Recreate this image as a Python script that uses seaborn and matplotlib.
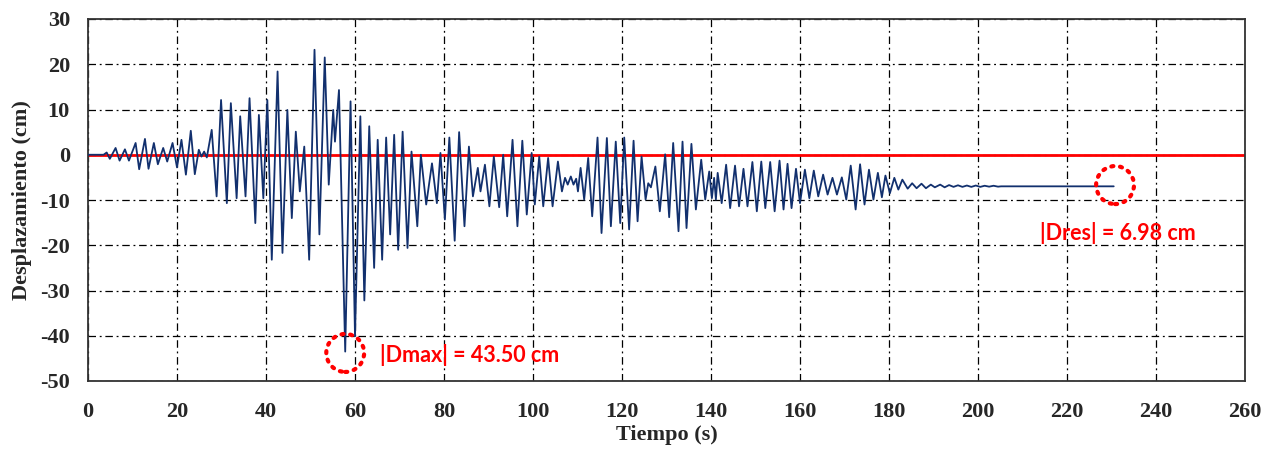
import numpy as np
import pandas as pd
import matplotlib
matplotlib.use("Agg")
import matplotlib.pyplot as plt
import seaborn as sns
from matplotlib.patches import Ellipse

# ---- data (peaks/valleys of the displacement history) ----
time_s = [0, 3.5, 4.2, 4.9, 6.2, 7.1, 8.3, 9.2, 10.7, 11.5, 12.8, 13.6, 14.8, 15.7, 16.9, 17.8,
          19.0, 20.0, 21.0, 22.0, 23.1, 24.0, 24.9, 25.5, 26.1, 26.7, 27.8, 28.9, 29.9, 31.2,
          32.1, 33.4, 34.2, 35.4, 36.3, 37.6, 38.4, 39.4, 40.3, 41.3, 42.6, 43.7, 44.8, 45.8,
          46.7, 47.6, 48.6, 49.7, 50.9, 52.0, 53.2, 54.1, 55.1, 55.5, 56.4, 57.8, 59.0, 60.0,
          61.2, 62.1, 63.2, 64.3, 65.1, 66.1, 67.0, 67.9, 68.8, 69.7, 70.7, 71.8, 72.7, 74.0,
          74.8, 76.0, 77.3, 78.4, 79.2, 80.2, 81.2, 82.4, 83.4, 84.6, 85.6, 86.5, 87.6, 88.2,
          89.2, 90.2, 91.2, 92.4, 93.3, 94.2, 95.4, 96.5, 97.6, 98.6, 99.7, 100.4, 101.4, 102.3,
          103.4, 104.4, 105.6, 106.5, 107.2, 107.8, 108.5, 109.1, 109.7, 110.1, 110.7, 111.5,
          112.4, 113.3, 114.5, 115.4, 116.6, 117.5, 118.6, 119.6, 120.5, 121.6, 122.6, 123.5,
          124.4, 125.3, 125.9, 126.5, 127.5, 128.5, 129.7, 130.6, 131.5, 132.7, 133.6, 134.5,
          135.6, 136.6, 137.8, 138.7, 139.6, 140.2, 140.7, 141.1, 141.5, 142.4, 143.4, 144.3,
          145.4, 146.3, 147.3, 148.2, 149.3, 150.3, 151.3, 152.2, 153.3, 154.3, 155.4, 156.3,
          157.2, 158.1, 159.1, 160.0, 161.1, 162.1, 163.1, 164.1, 165.2, 166.2, 167.3, 168.3,
          169.4, 170.4, 171.4, 172.5, 173.5, 174.5, 175.5, 176.5, 177.5, 178.4, 179.2, 180.2,
          181.2, 182.1, 183.0, 184.2, 185.2, 186.2, 187.3, 188.3, 189.4, 190.3, 191.5, 192.5,
          193.5, 194.5, 195.5, 196.5, 197.5, 198.5, 199.5, 200.5, 201.5, 202.5, 203.5, 204.5,
          205.2, 230.5]
disp_cm = [0, 0, 0.5, -0.9, 1.5, -1.3, 1.2, -1.3, 2.6, -3.2, 3.5, -3.1, 2.6, -2.1, 1.5, -1.5,
           2.6, -2.8, 3.3, -4.4, 5.3, -4.3, 1.1, -0.4, 0.7, -0.6, 5.5, -9.2, 12.1, -10.7,
           11.4, -9.6, 8.5, -9.2, 12.5, -15.1, 8.8, -9.6, 12.1, -23.2, 18.4, -21.7, 9.9, -14.0,
           5.1, -8.1, 1.8, -23.2, 23.2, -17.6, 21.5, -6.6, 9.9, 2.9, 14.3, -43.5, 11.8, -40.1,
           8.5, -32.2, 6.3, -25.0, 3.3, -23.2, 3.8, -17.6, 4.4, -21.0, 5.1, -20.6, 0.7, -15.8,
           0.0, -11.0, -1.9, -10.7, 0.4, -14.3, 3.8, -19.0, 5.0, -15.8, 1.8, -9.2, -2.9, -8.1,
           -2.2, -11.4, -0.4, -11.6, 0.0, -13.6, 3.3, -15.8, 3.1, -13.2, 0.4, -11.0, -0.4, -11.4,
           -0.7, -11.4, -1.5, -8.1, -5.1, -6.6, -4.8, -6.6, -5.3, -8.1, -2.9, -9.9,
           -0.7, -13.6, 3.8, -17.3, 3.7, -15.8, 2.9, -15.1, 3.8, -16.5, 3.1, -14.7,
           -0.4, -9.9, -6.3, -7.2, -2.6, -12.5, 0.1, -13.8, 2.6, -16.9, 2.9, -16.2,
           2.4, -12.1, -1.1, -9.9, -3.7, -9.6, -5.1, -9.9, -4.0, -10.7, -2.2, -11.8,
           -2.4, -11.4, -3.1, -11.4, -1.6, -12.5, -1.5, -11.8, -1.6, -12.5, -1.3, -12.1,
           -2.0, -11.8, -3.1, -10.7, -3.3, -9.6, -3.5, -9.2, -4.4, -8.8, -5.1, -8.8,
           -5.0, -9.9, -2.4, -12.1, -2.1, -11.0, -3.3, -9.9, -4.0, -9.4, -4.6, -8.5,
           -5.1, -7.7, -5.5, -7.5, -6.3, -7.4, -6.4, -7.4, -6.6, -7.2, -6.6, -7.2,
           -6.7, -7.1, -6.75, -7.1, -6.8, -7.1, -6.8, -7.1, -6.85, -7.05, -6.85, -7.05,
           -6.98, -6.98]

x_ticks = list(range(0, 261, 20))
y_ticks = list(range(-50, 31, 10))
dmax_label = "|Dmax| = 43.50 cm"
dres_label = "|Dres| = 6.98 cm"

df = pd.DataFrame({"Tiempo (s)": time_s, "Desplazamiento (cm)": disp_cm})

sns.set_theme(style="white")
plt.rcParams["font.family"] = ["Liberation Serif", "DejaVu Serif"]
plt.rcParams["axes.unicode_minus"] = False

fig = plt.figure(figsize=(12.8, 4.54), dpi=100)
ax = fig.add_axes([88 / 1280, 1 - 381 / 454, (1245 - 88) / 1280, (381 - 19) / 454])

ax.set_xlim(0, 260)
ax.set_ylim(-50, 30)
ax.set_xticks(x_ticks)
ax.set_yticks(y_ticks)
ax.grid(True, color="black", linestyle=(0, (6, 3, 1.5, 3)), linewidth=0.9)
ax.set_axisbelow(True)

ax.axhline(0, color="#FF0000", linewidth=2.0, zorder=2)
sns.lineplot(data=df, x="Tiempo (s)", y="Desplazamiento (cm)", ax=ax,
             color="#12306E", linewidth=1.3, estimator=None, sort=False, zorder=3)

for sp in ax.spines.values():
    sp.set_color("#333333")
    sp.set_linewidth(1.3)
    sp.set_visible(True)

ax.tick_params(axis="y", length=0, pad=13, labelsize=16)
ax.tick_params(axis="x", length=0, pad=15, labelsize=16)
for lab in ax.get_xticklabels() + ax.get_yticklabels():
    lab.set_fontweight("bold")
ax.set_xlabel("Tiempo (s)", fontsize=16, fontweight="bold", labelpad=2)
ax.set_ylabel("Desplazamiento (cm)", fontsize=16, fontweight="bold", labelpad=6)

# annotations
for cx, cy in [(57.8, -43.8), (230.8, -6.7)]:
    ax.add_patch(Ellipse((cx, cy), 8.5, 8.4, fill=False, edgecolor="#FF0000",
                         linewidth=3, linestyle=(0, (0.5, 1.6)), capstyle="round", zorder=4))
ax.text(65.6, -44.2, dmax_label, color="#FF0000", fontsize=15.5, fontweight="bold",
        family=["Lato", "DejaVu Sans"], ha="left", va="center", zorder=5)
ax.text(231.5, -17.2, dres_label, color="#FF0000", fontsize=15.5, fontweight="bold",
        family=["Lato", "DejaVu Sans"], ha="center", va="center", zorder=5)

fig.savefig("out.png", dpi=100)
